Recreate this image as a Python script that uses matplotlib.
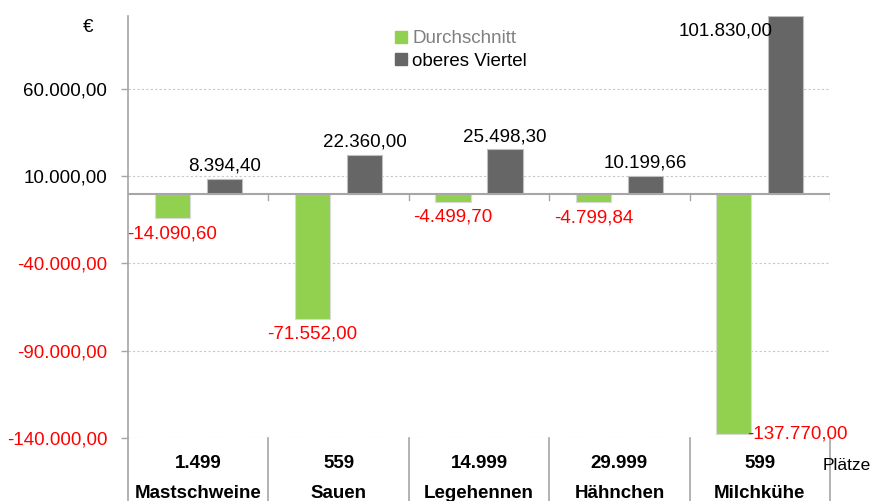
import matplotlib
matplotlib.use("Agg")
import matplotlib.pyplot as plt
from matplotlib.patches import Patch
import numpy as np

# ============== Daten ===================
kategorien = ["Mastschweine", "Sauen", "Legehennen", "Hähnchen", "Milchkühe"]
plaetze = ["1.499", "559", "14.999", "29.999", "599"]
durchschnitt = [-14090.60, -71552.00, -4499.70, -4799.84, -137770.00]
oberes_viertel = [8394.40, 22360.00, 25498.30, 10199.66, 101830.00]
yticks = [-140000, -90000, -40000, 10000, 60000]


def fmt_de(v):
    # format allemand : 1.234,56
    s = f"{v:,.2f}"
    return s.replace(",", "X").replace(".", ",").replace("X", ".")


plt.rcParams["font.family"] = ["Liberation Sans", "DejaVu Sans"]

GRUEN = "#92d050"
GRAU = "#666666"
ROT = "#ff0000"
LINIE = "#a6a6a6"
FS = 13.5

fig = plt.figure(figsize=(8.76, 5.01), dpi=100)
ax = fig.add_axes([128 / 876, 1 - 438 / 501, (830 - 128) / 876, (438 - 16) / 501])

x = np.arange(len(kategorien))
w = 0.25
off = 0.185
b1 = ax.bar(x - off, durchschnitt, w, color=GRUEN, edgecolor="#d9d9d9", linewidth=0.8,
            label="Durchschnitt", zorder=3)
b2 = ax.bar(x + off, oberes_viertel, w, color=GRAU, edgecolor="#bfbfbf", linewidth=0.8,
            label="oberes Viertel", zorder=3)

ax.set_xlim(-0.5, len(kategorien) - 0.5)
ax.set_ylim(-140000, max(oberes_viertel))

# ============== Achsen ===================
ax.set_yticks(yticks)
ax.set_yticklabels([fmt_de(v) for v in yticks], fontsize=FS)
for lab, v in zip(ax.get_yticklabels(), yticks):
    lab.set_color(ROT if v < 0 else "black")
ax.tick_params(axis="y", length=5, width=1, color=LINIE, pad=10)
ax.set_xticks([])
ax.grid(axis="y", linestyle=(0, (2, 2)), color="#c8c8c8", linewidth=0.8, zorder=0)

for s in ["top", "right", "bottom"]:
    ax.spines[s].set_visible(False)
ax.spines["left"].set_color(LINIE)
ax.spines["left"].set_linewidth(1.2)

# ligne zéro + petites marques de catégorie
ax.axhline(0, color=LINIE, linewidth=1.5, zorder=4)
for k in range(1, len(kategorien) + 1):
    ax.plot([k - 0.5, k - 0.5], [0, -3500], color=LINIE, linewidth=1, zorder=4)

# ============== Etiquettes des barres ===================
ymin, ymax = ax.get_ylim()
for i, v in enumerate(oberes_viertel):
    if v >= ymax * 0.98:
        # trop haut -> dans le coin supérieur gauche de la barre
        ax.annotate(fmt_de(v), (x[i] + off - w / 2, v), xytext=(3, -5), textcoords="offset points",
                    ha="right", va="top", fontsize=FS, color="black")
    else:
        ax.annotate(fmt_de(v), (x[i] + off, v), xytext=(0, 3), textcoords="offset points",
                    ha="center", va="bottom", fontsize=FS, color="black")
for i, v in enumerate(durchschnitt):
    if v <= ymin * 0.97:
        # trop bas -> à droite du bas de la barre
        ax.annotate(fmt_de(v), (x[i] - off + w / 2, v), xytext=(-3, 0), textcoords="offset points",
                    ha="left", va="center", fontsize=FS, color=ROT, annotation_clip=False)
    else:
        ax.annotate(fmt_de(v), (x[i] - off, v), xytext=(0, -5), textcoords="offset points",
                    ha="center", va="top", fontsize=FS, color=ROT)

# ============== Tableau sous le graphique ===================
trans = ax.get_xaxis_transform()
for k in range(len(kategorien) + 1):
    ax.plot([k - 0.5, k - 0.5], [0, -63 / 422], transform=trans, color=LINIE,
            linewidth=1.2, clip_on=False)
for i in range(len(kategorien)):
    ax.text(x[i], -25 / 422, plaetze[i], transform=trans, ha="center", va="center",
            fontsize=FS, fontweight="bold")
    ax.text(x[i], -56 / 422, kategorien[i], transform=trans, ha="center", va="center",
            fontsize=FS, fontweight="bold")
fig.text(823 / 876, 1 - 466 / 501, "Plätze", ha="left", va="center", fontsize=12.5)
fig.text(88 / 876, 1 - 27 / 501, "€", ha="center", va="center", fontsize=FS)

# ============== Légende ===================
handles = [Patch(color=GRUEN, label="Durchschnitt"), Patch(color=GRAU, label="oberes Viertel")]
leg = fig.legend(handles=handles, loc="upper left", bbox_to_anchor=(386 / 876, 1 - 21 / 501),
                 frameon=False, fontsize=FS, handlelength=0.6, handleheight=0.6,
                 handletextpad=0.3, labelspacing=0.3, borderpad=0)
leg.get_texts()[0].set_color("#808080")

fig.savefig("out.png", dpi=100)
